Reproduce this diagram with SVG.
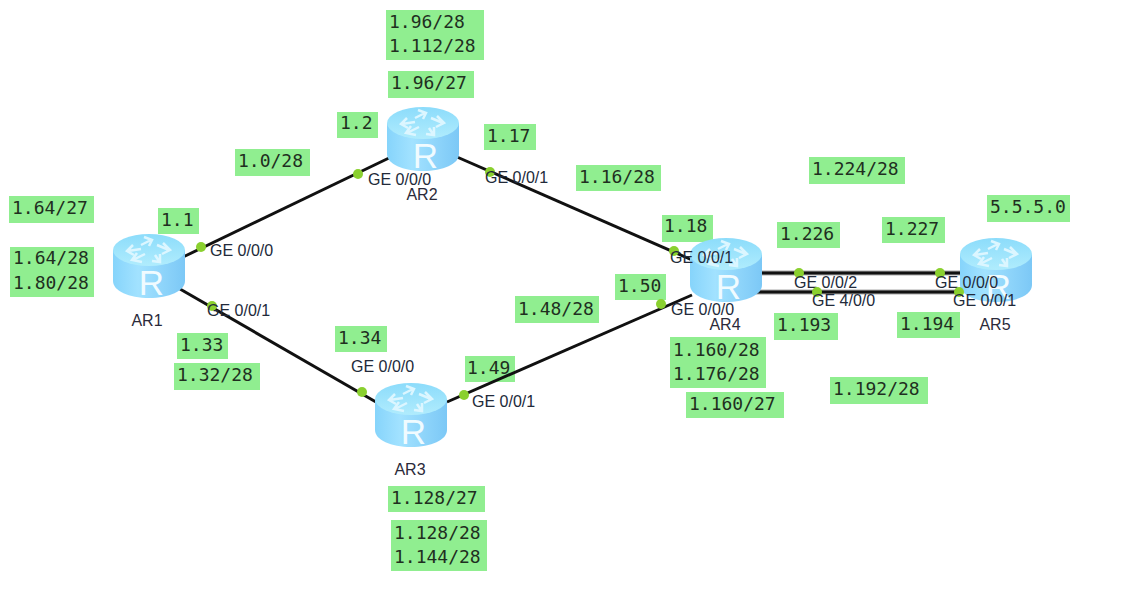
<svg xmlns="http://www.w3.org/2000/svg" width="1128" height="592" viewBox="0 0 1128 592">
<style>
.box{fill:#90ee90}
.mono{font:18px "DejaVu Sans Mono","Liberation Mono",monospace;fill:#1f2f1f}
.port{font:16px "Liberation Sans",Arial,sans-serif;fill:#222a3a}
.name{font:16px "Liberation Sans",Arial,sans-serif;fill:#2a2a3a;text-anchor:middle}
.link{stroke:#111;stroke-width:3;fill:none}
.halo{stroke:#aaa;stroke-width:5;fill:none}
.dot{fill:#8ad02f}
.arr{stroke:#dcf6ff;stroke-width:2.5;fill:none;stroke-linejoin:miter}
.r{font:35px "Liberation Sans",Arial,sans-serif;fill:#f0fbff;text-anchor:middle}
</style>
<defs>
<linearGradient id="body" x1="0" x2="1" y1="0" y2="0">
<stop offset="0" stop-color="#86d4fb"/><stop offset=".35" stop-color="#a2e2ff"/><stop offset="1" stop-color="#7cc8f6"/>
</linearGradient>
<linearGradient id="top" x1="0" x2="0" y1="0" y2="1">
<stop offset="0" stop-color="#8cdcfb"/><stop offset="1" stop-color="#b0ecfd"/>
</linearGradient>
<g id="router">
<path d="M0 16V47C0 57 16 64 36 64S72 57 72 47V16Z" fill="url(#body)"/>
<ellipse cx="36" cy="16" rx="36" ry="16" fill="url(#top)"/>
<g class="arr">
<path d="M28 11L38 6M31 3L39 6L36 12"/>
<path d="M44 11L56 16M50 9L57 16L49 20"/>
<path d="M32 20L20 26M29 28L19 26L24 19"/>
<path d="M28 15L15 17M20 11L14 17L21 21"/>
<path d="M42 21L46 27M39 27L47 28L47 20"/>
</g>
<text class="r" x="38.5" y="61">R</text>
</g>
</defs>
<g id="addresses">
<rect class="box" x="386" y="10" width="98" height="50"/><text class="mono" x="389" y="28">1.96/28</text><text class="mono" x="389" y="52">1.112/28</text>
<rect class="box" x="388" y="71" width="86" height="27"/><text class="mono" x="391" y="89">1.96/27</text>
<rect class="box" x="337" y="112" width="41" height="26"/><text class="mono" x="340" y="129">1.2</text>
<rect class="box" x="484" y="124" width="52" height="26"/><text class="mono" x="487" y="142">1.17</text>
<rect class="box" x="235" y="149" width="75" height="27"/><text class="mono" x="238" y="167">1.0/28</text>
<rect class="box" x="576" y="165" width="85" height="26"/><text class="mono" x="579" y="183">1.16/28</text>
<rect class="box" x="809" y="157" width="96" height="27"/><text class="mono" x="812" y="175">1.224/28</text>
<rect class="box" x="987" y="195" width="83" height="27"/><text class="mono" x="990" y="213">5.5.5.0</text>
<rect class="box" x="9" y="196" width="85" height="27"/><text class="mono" x="12" y="214">1.64/27</text>
<rect class="box" x="158" y="208" width="41" height="26"/><text class="mono" x="161" y="226">1.1</text>
<rect class="box" x="10" y="247" width="84" height="50"/><text class="mono" x="13" y="264">1.64/28</text><text class="mono" x="13" y="289">1.80/28</text>
<rect class="box" x="662" y="215" width="51" height="27"/><text class="mono" x="664" y="232">1.18</text>
<rect class="box" x="777" y="222" width="63" height="26"/><text class="mono" x="780" y="240">1.226</text>
<rect class="box" x="882" y="217" width="63" height="26"/><text class="mono" x="885" y="235">1.227</text>
<rect class="box" x="615" y="274" width="51" height="26"/><text class="mono" x="618" y="292">1.50</text>
<rect class="box" x="515" y="296" width="84" height="27"/><text class="mono" x="518" y="315">1.48/28</text>
<rect class="box" x="774" y="313" width="64" height="27"/><text class="mono" x="777" y="331">1.193</text>
<rect class="box" x="897" y="312" width="63" height="26"/><text class="mono" x="900" y="330">1.194</text>
<rect class="box" x="335" y="326" width="52" height="26"/><text class="mono" x="338" y="344">1.34</text>
<rect class="box" x="177" y="333" width="51" height="26"/><text class="mono" x="180" y="351">1.33</text>
<rect class="box" x="670" y="337" width="96" height="51"/><text class="mono" x="673" y="356">1.160/28</text><text class="mono" x="673" y="380">1.176/28</text>
<rect class="box" x="465" y="356" width="50" height="26"/><text class="mono" x="467" y="374">1.49</text>
<rect class="box" x="174" y="363" width="86" height="27"/><text class="mono" x="177" y="381">1.32/28</text>
<rect class="box" x="686" y="392" width="98" height="26"/><text class="mono" x="689" y="410">1.160/27</text>
<rect class="box" x="830" y="377" width="98" height="27"/><text class="mono" x="833" y="395">1.192/28</text>
<rect class="box" x="388" y="486" width="97" height="26"/><text class="mono" x="391" y="504">1.128/27</text>
<rect class="box" x="391" y="520" width="96" height="51"/><text class="mono" x="394" y="539">1.128/28</text><text class="mono" x="394" y="563">1.144/28</text>
</g>
<g id="connectors">
<path class="link" d="M183 257L389 158"/>
<path class="link" d="M457 157L692 260"/>
<path class="link" d="M180 289L376 402"/>
<path class="link" d="M447 402L692 295"/>
<path class="halo" d="M760 273H962"/>
<path class="halo" d="M756 292H962"/>
<path class="link" d="M760 273H962"/>
<path class="link" d="M756 292H962"/>
</g>
<g id="AR1"><use href="#router" x="113" y="234"/><text class="name" x="147" y="326">AR1</text></g>
<g id="AR2"><use href="#router" x="387" y="107"/><text class="name" x="422" y="200">AR2</text></g>
<g id="AR3"><use href="#router" x="375" y="383"/><text class="name" x="410" y="475">AR3</text></g>
<g id="AR4"><use href="#router" x="690" y="238"/><text class="name" x="725" y="330">AR4</text></g>
<g id="AR5"><use href="#router" x="960" y="238"/><text class="name" x="995" y="330">AR5</text></g>
<g id="ports">
<circle class="dot" cx="201" cy="247" r="5"/><text class="port" x="210" y="256">GE 0/0/0</text>
<circle class="dot" cx="212" cy="306" r="5"/><text class="port" x="207" y="316">GE 0/0/1</text>
<circle class="dot" cx="358" cy="174" r="5"/><text class="port" x="368" y="185">GE 0/0/0</text>
<circle class="dot" cx="490" cy="172" r="5"/><text class="port" x="485" y="183">GE 0/0/1</text>
<circle class="dot" cx="362" cy="392" r="5"/><text class="port" x="351" y="372">GE 0/0/0</text>
<circle class="dot" cx="464" cy="395" r="5"/><text class="port" x="472" y="407">GE 0/0/1</text>
<circle class="dot" cx="674" cy="251" r="5"/><text class="port" x="670" y="263">GE 0/0/1</text>
<circle class="dot" cx="661" cy="304" r="5"/><text class="port" x="671" y="315">GE 0/0/0</text>
<circle class="dot" cx="799" cy="273" r="5"/><text class="port" x="794" y="288">GE 0/0/2</text>
<circle class="dot" cx="817" cy="292" r="5"/><text class="port" x="812" y="306">GE 4/0/0</text>
<circle class="dot" cx="940" cy="273" r="5"/><text class="port" x="935" y="288">GE 0/0/0</text>
<circle class="dot" cx="959" cy="292" r="5"/><text class="port" x="953" y="306">GE 0/0/1</text>
</g>
</svg>
